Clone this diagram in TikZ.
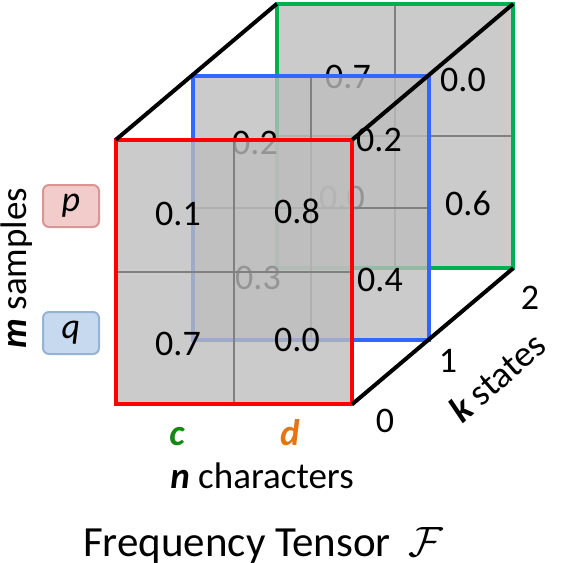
\documentclass[tikz,border=0pt]{standalone}
\usepackage{graphicx}
\usepackage{fontspec}
\setmainfont{Carlito}
\definecolor{cred}{RGB}{255,0,0}
\definecolor{cblue}{RGB}{51,102,255}
\definecolor{cgreen}{RGB}{0,176,80}
\definecolor{layerfill}{RGB}{189,189,189}
\definecolor{gridgray}{RGB}{128,128,128}
\definecolor{cgreentext}{RGB}{20,135,20}
\definecolor{corange}{RGB}{230,115,20}
\definecolor{pfill}{RGB}{242,203,203}
\definecolor{pdraw}{RGB}{218,150,148}
\definecolor{qfill}{RGB}{198,217,239}
\definecolor{qdraw}{RGB}{149,179,215}
\tikzset{
  layer/.style={fill=layerfill, fill opacity=0.79, draw=none, inner sep=0,
    minimum width=236bp, minimum height=264bp},
  gridline/.style={draw=gridgray, line width=2bp},
  border/.style={line width=4bp},
  num/.style={font=\fontsize{36bp}{40bp}\selectfont, inner sep=0},
  lbl/.style={font=\fontsize{37bp}{42bp}\selectfont, inner sep=0},
  edgethree/.style={draw=black, line width=4bp},
  sampbox/.style={rounded corners=6bp, line width=2bp, minimum width=56bp,
    minimum height=42bp, inner sep=0, font=\fontsize{36bp}{40bp}\selectfont\itshape},
}
\begin{document}
\begin{tikzpicture}[x=1bp,y=-1bp]
\useasboundingbox (0,0) rectangle (563,563);
% green layer (k = 2)
\node[layer] (G) at (395,136) {};
\draw[gridline] (G.north) -- (G.south);
\draw[gridline] (G.west) -- (G.east);
\draw[border, draw=cgreen] (G.north west) rectangle (G.south east);
\node[num] (g11) at (348,77) {0.7};
\node[num] (g12) at (463,80) {0.0};
\node[num] (g21) at (342,198) {0.0};
\node[num] (g22) at (468,203) {0.6};
% blue layer (k = 1)
\node[layer] (B) at (311,208) {};
\draw[gridline] (B.north) -- (B.south);
\draw[gridline] (B.west) -- (B.east);
\draw[border, draw=cblue] (B.north west) rectangle (B.south east);
\node[num] (b11) at (255,143) {0.2};
\node[num] (b12) at (379,140) {0.2};
\node[num] (b21) at (258,278) {0.3};
\node[num] (b22) at (380,280) {0.4};
% red layer (k = 0)
\node[layer] (R) at (234,272) {};
\draw[gridline] (R.north) -- (R.south);
\draw[gridline] (R.west) -- (R.east);
\draw[border, draw=cred] (R.north west) rectangle (R.south east);
\node[num] (r11) at (178,214) {0.1};
\node[num] (r12) at (297,211) {0.8};
\node[num] (r21) at (178,344) {0.7};
\node[num] (r22) at (297,340) {0.0};
% depth edges
\draw[edgethree] (R.north west) -- (G.north west);
\draw[edgethree] (R.north east) -- (G.north east);
\draw[edgethree] (R.south east) -- (G.south east);
% k axis
\node[num] (k0) at (385,421) {0};
\node[num] (k1) at (448,361) {1};
\node[num] (k2) at (530,298) {2};
\node[lbl, rotate=41] (klab) at (497,377) {{\bfseries\itshape k} states};
% sample labels
\node[sampbox, fill=pfill, draw=pdraw] (p) at (71,206) {p};
\node[sampbox, fill=qfill, draw=qdraw] (q) at (71,333) {q};
\node[lbl, rotate=90, anchor=base] (mlab) at (26,268) {{\bfseries\itshape m} samples};
% character labels
\node[lbl, anchor=base, text=cgreentext] (c) at (177,445) {\bfseries\itshape c};
\node[lbl, anchor=base, text=corange] (d) at (290,445) {\bfseries\itshape d};
\node[lbl, anchor=base] (nlab) at (262,488) {{\bfseries\itshape n} characters};
% title
\node[anchor=base west, inner sep=0, font=\fontsize{43bp}{48bp}\selectfont] (title) at (83,556) {Frequency Tensor\hspace{0.4em}{\fontsize{20.74pt}{24pt}\selectfont\scalebox{2.05}{$\mathcal{F}$}}};
\end{tikzpicture}
\end{document}
